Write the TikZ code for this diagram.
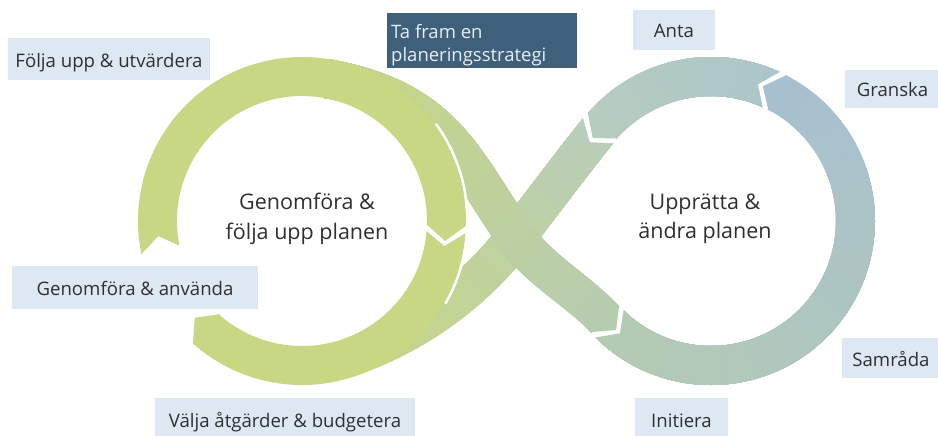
\documentclass[tikz,border=0pt]{standalone}
\usepackage{fontspec}
\setmainfont{Open Sans}
\usetikzlibrary{calc}
\definecolor{yg}{RGB}{199,215,131}
\definecolor{rgA}{RGB}{181,203,178}
\definecolor{rbB}{RGB}{167,192,207}
\definecolor{rtA}{RGB}{172,197,203}
\definecolor{rtB}{RGB}{182,204,190}
\definecolor{dOneA}{RGB}{184,205,186}
\definecolor{dTwoB}{RGB}{182,204,176}
\definecolor{lblue}{RGB}{221,232,243}
\definecolor{darkbox}{RGB}{62,96,122}
\definecolor{txt}{RGB}{48,48,48}
\definecolor{txtlight}{RGB}{232,238,243}
\tikzset{
  band/.style={line width=39pt, line cap=butt},
  lbl/.style={fill=lblue, text=txt, font=\fontsize{18.6}{22}\selectfont, inner sep=0pt, text height=20.5pt, text depth=4.5pt},
  centertext/.style={text=txt, font=\fontsize{21.5}{29.5}\selectfont, align=center, inner sep=0pt},
}
\newcommand{\mygradband}[4]{%
  \foreach \k in {16,15,...,1}{%
    \pgfmathsetmacro{\len}{(\k==16)?5000:#3*\k/16}%
    \pgfmathtruncatemacro{\mix}{100-100*(\k-0.5)/16}%
    \draw[band, color=#1!\mix!#2, dash pattern=on \len pt off 5000pt] #4;%
  }%
}
\begin{document}
\begin{tikzpicture}[x=1pt,y=-1pt]
\fill[white] (0,0) rectangle (938,436);
\useasboundingbox (0,0) rectangle (938,436);
\coordinate (CL) at (302,221);
\coordinate (CR) at (711,221);
\coordinate (X) at (516,237);
% D1 : from right ring (top left) down-left into left ring
\coordinate (S1) at (598.7,130.1);
\coordinate (S1a) at (573.5,161.2);
\coordinate (S1b) at (540.5,205.4);
\coordinate (E1a) at (473.2,292.4);
\coordinate (E1b) at (417.2,332.9);
\coordinate (E1) at (351.4,356.8);
% D2 : from left ring (top) down-right into right ring
\coordinate (S2) at (327.1,78.7);
\coordinate (S2a) at (445.3,99.6);
\coordinate (S2b) at (464.3,163.3);
\coordinate (E2a) at (539,269.8);
\coordinate (E2b) at (578,290.4);
\coordinate (E2) at (605.3,319.6);

\mygradband{dOneA}{yg}{345}{(S1) .. controls (S1a) and (S1b) .. (X) .. controls (E1a) and (E1b) .. (E1)}
\mygradband{yg}{dTwoB}{377}{(S2) .. controls (S2a) and (S2b) .. (X) .. controls (E2a) and (E2b) .. (E2)}

% right ring
\mygradband{rgA}{rbB}{499.4}{(CR) ++(135:144.5) arc[start angle=135, end angle=-63, radius=144.5]}
\mygradband{rtA}{rtB}{186.6}{(CR) ++(-65:144.5) arc[start angle=-65, end angle=-139, radius=144.5]}

% left ring
\draw[band, yg] (CL) ++(168:144.5) arc[start angle=168, end angle=362, radius=144.5];
\draw[band, yg] (CL) ++(4:144.5) arc[start angle=4, end angle=132, radius=144.5];
\draw[white, line width=2.5pt] (CL) ++(-36:165.5) arc[start angle=-36, end angle=30, radius=165.5];

% tail notches
\fill[white] ($(CL)+(3.5:167)$) -- ($(CL)+(3.5:122)$) -- ($(CL)+(9.95:144.5)$) -- cycle;
\fill[white] ($(CL)+(167.5:167)$) -- ($(CL)+(167.5:122)$) -- ($(CL)+(173.95:144.5)$) -- cycle;
\fill[white] ($(CR)+(135.5:167)$) -- ($(CR)+(135.5:122)$) -- ($(CR)+(129.05:144.5)$) -- cycle;
\fill[white] ($(CR)+(-64.5:167)$) -- ($(CR)+(-64.5:122)$) -- ($(CR)+(-70.95:144.5)$) -- cycle;
\fill[white] ($(CR)+(-140.5:167)$) -- ($(CR)+(-140.5:122)$) -- ($(CR)+(-146.95:144.5)$) -- cycle;

% heads
\fill[yg] ($(CL)+(1.7:164)$) -- ($(CL)+(1.7:125)$) -- ($(CL)+(7.95:144.5)$) -- cycle;
\fill[yg] ($(CL)+(131.7:164)$) -- ($(CL)+(131.7:125)$) -- ($(CL)+(137.95:144.5)$) -- cycle;
\fill[dTwoB] ($(CR)+(137.3:164)$) -- ($(CR)+(137.3:125)$) -- ($(CR)+(131.05:144.5)$) -- cycle;
\fill[rbB] ($(CR)+(-62.7:164)$) -- ($(CR)+(-62.7:125)$) -- ($(CR)+(-68.95:144.5)$) -- cycle;
\fill[rtB] ($(CR)+(-138.7:164)$) -- ($(CR)+(-138.7:125)$) -- ($(CR)+(-144.95:144.5)$) -- cycle;

% labels
\node[lbl, minimum width=202pt, minimum height=42pt] (follja) at (109,59) {Följa upp \& utvärdera};
\node[lbl, minimum width=246pt, minimum height=43pt] (genomanv) at (135,287.5) {Genomföra \& använda};
\node[lbl, minimum width=260pt, minimum height=42pt] (valja) at (285,419) {Välja åtgärder \& budgetera};
\node[lbl, minimum width=82pt, minimum height=40pt] (anta) at (674,30) {Anta};
\node[lbl, minimum width=96pt, minimum height=38pt] (granska) at (892.5,89) {Granska};
\node[lbl, minimum width=98pt, minimum height=40pt] (samrada) at (891,358) {Samråda};
\node[lbl, minimum width=93pt, minimum height=42pt] (initiera) at (681.5,419) {Initiera};
\node[fill=darkbox, minimum width=190pt, minimum height=55pt, inner sep=0pt] (tafram) at (482,40.5) {};
\node[anchor=north west, text=txtlight, font=\fontsize{18.5}{23}\selectfont, align=left, inner sep=0pt] (taframtext) at (391,24.5) {Ta fram en\\planeringsstrategi};

\node[centertext] (leftc) at (307,219) {Genomföra \&\\följa upp planen};
\node[centertext] (rightc) at (705,219) {Upprätta \&\\ändra planen};
\end{tikzpicture}
\end{document}
